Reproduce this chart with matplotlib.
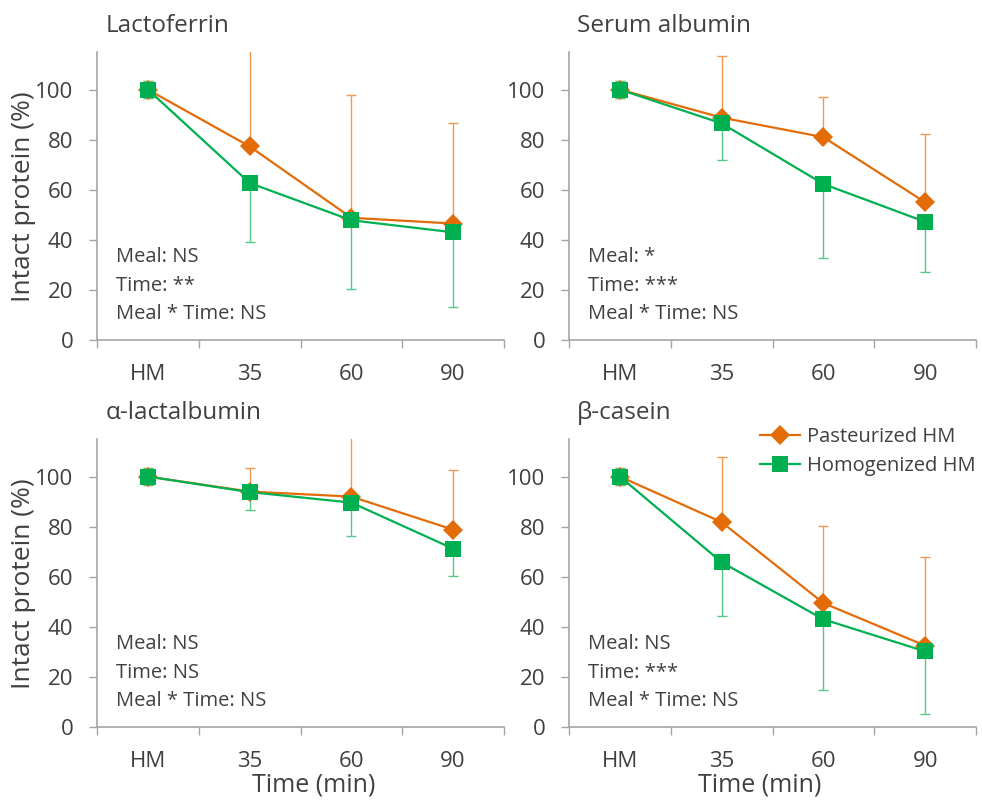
import numpy as np
import matplotlib
matplotlib.use('Agg')
import matplotlib.pyplot as plt
from matplotlib.lines import Line2D

plt.rcParams['font.family'] = ['Open Sans', 'DejaVu Sans']

# categories on the x axis
times = ['HM', '35', '60', '90']

# panel titles and stats annotations
proteins = ['Lactoferrin', 'Serum albumin', '\u03b1-lactalbumin', '\u03b2-casein']
stats = [['Meal: NS', 'Time: **', 'Meal * Time: NS'],
         ['Meal: *', 'Time: ***', 'Meal * Time: NS'],
         ['Meal: NS', 'Time: NS', 'Meal * Time: NS'],
         ['Meal: NS', 'Time: ***', 'Meal * Time: NS']]

# Pasteurized HM (means, upper error bar tops)
past_mean = [[100, 77.3, 48.8, 46.5],
             [100, 88.8, 81.0, 55.0],
             [100, 94.0, 92.0, 78.8],
             [100, 81.8, 49.5, 32.5]]
past_top = [[103.3, 125.0, 97.8, 86.7],
            [103.3, 113.5, 97.0, 82.4],
            [103.3, 103.5, 120.0, 102.5],
            [103.3, 107.7, 80.4, 67.7]]

# Homogenized HM (means, lower error bar bottoms)
homo_mean = [[100, 62.7, 47.8, 43.0],
             [100, 86.5, 62.3, 47.2],
             [100, 93.8, 89.6, 71.2],
             [100, 65.8, 43.0, 30.2]]
homo_bot = [[96.6, 39.0, 20.3, 13.0],
            [96.6, 71.9, 32.7, 27.0],
            [96.6, 86.6, 76.3, 60.4],
            [96.6, 44.4, 14.8, 5.2]]

ORANGE = '#E36C09'
ORANGE_ERR = '#F19A55'
GREEN = '#00B050'
GREEN_ERR = '#55C985'
AXIS_GRAY = '#A6A6A6'
TEXT = '#404040'

W, H = 982, 801
fig = plt.figure(figsize=(W / 100, H / 100), dpi=100)

# axes boxes in pixels: (left, top, right, bottom)
boxes = [(97, 52, 504, 340), (569, 52, 976, 340),
         (97, 439, 504, 727), (569, 439, 976, 727)]

x = np.arange(len(times))
for i, (l, t, r, b) in enumerate(boxes):
    ax = fig.add_axes([l / W, 1 - b / H, (r - l) / W, (b - t) / H])

    pm = np.array(past_mean[i])
    hm = np.array(homo_mean[i])
    up = np.array(past_top[i]) - pm
    lo_p = np.zeros(4)
    lo_p[0] = up[0]
    dn = hm - np.array(homo_bot[i])
    up_h = np.zeros(4)
    up_h[0] = dn[0]

    ax.errorbar(x, pm, yerr=[lo_p, up], fmt='none', ecolor=ORANGE_ERR,
                elinewidth=1.0, capsize=3.5, capthick=1.0, zorder=1)
    ax.errorbar(x, hm, yerr=[dn, up_h], fmt='none', ecolor=GREEN_ERR,
                elinewidth=1.0, capsize=3.5, capthick=1.0, zorder=1)
    ax.plot(x, pm, color=ORANGE, lw=1.6, marker='D', markersize=10.5,
            markeredgewidth=0, zorder=3)
    ax.plot(x, hm, color=GREEN, lw=1.6, marker='s', markersize=11.5,
            markeredgewidth=0, zorder=4)

    ax.set_xlim(-0.5, 3.5)
    ax.set_ylim(0, 115)
    ax.set_yticks(np.arange(0, 101, 20))
    ax.set_xticks(np.arange(-0.5, 3.6, 1))
    ax.set_xticklabels([])
    ax.set_xticks(x, minor=True)
    ax.set_xticklabels(times, minor=True)
    ax.tick_params(axis='x', which='major', length=6, width=1, color=AXIS_GRAY)
    ax.tick_params(axis='x', which='minor', length=0, pad=17, labelsize=16, labelcolor=TEXT)
    ax.tick_params(axis='y', length=6, width=1, color=AXIS_GRAY, pad=11,
                   labelsize=16, labelcolor=TEXT)
    for s in ['top', 'right']:
        ax.spines[s].set_visible(False)
    for s in ['left', 'bottom']:
        ax.spines[s].set_color(AXIS_GRAY)
        ax.spines[s].set_linewidth(1.2)

    ax.text(0.02, 1.069, proteins[i], transform=ax.transAxes, fontsize=17.5,
            color=TEXT, ha='left', va='baseline')
    for k, yy in enumerate([0.27, 0.171, 0.074]):
        ax.text(0.047, yy, stats[i][k], transform=ax.transAxes, fontsize=14.5,
                color=TEXT, ha='left', va='baseline')

# y labels
for yc in [197, 584]:
    fig.text(24 / W, 1 - yc / H, 'Intact protein (%)', rotation=90, fontsize=19,
             color=TEXT, ha='center', va='center')
# x labels
for xc in [314, 760]:
    fig.text(xc / W, 1 - 785 / H, 'Time (min)', fontsize=18, color=TEXT,
             ha='center', va='center')

handles = [Line2D([], [], color=ORANGE, lw=1.6, marker='D', markersize=10.5, markeredgewidth=0),
           Line2D([], [], color=GREEN, lw=1.6, marker='s', markersize=11.5, markeredgewidth=0)]
fig.legend(handles, ['Pasteurized HM', 'Homogenized HM'], loc='upper left',
           bbox_to_anchor=(760 / W, 1 - 427 / H), frameon=False, fontsize=14.5,
           handlelength=2.0, handletextpad=0.35, borderpad=0, borderaxespad=0,
           labelspacing=0.45, labelcolor=TEXT)

fig.savefig('out.png', dpi=100)
